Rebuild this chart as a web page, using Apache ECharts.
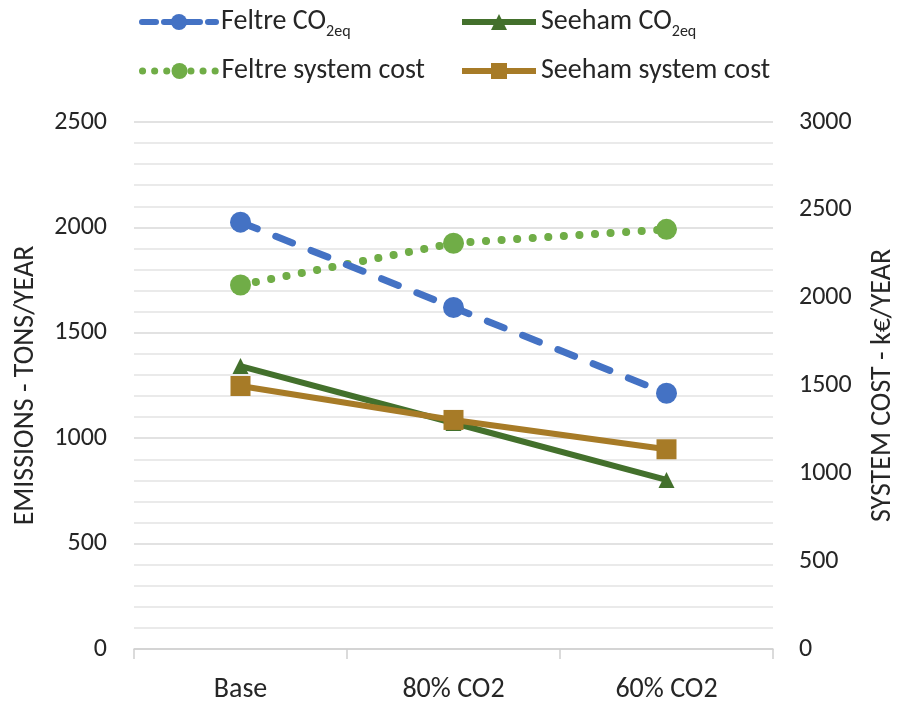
<!DOCTYPE html>
<html>
<head>
<meta charset="utf-8">
<script src="https://cdn.jsdelivr.net/npm/echarts@6/dist/echarts.min.js"></script>
<style>
  html, body { margin: 0; padding: 0; background: #fff; }
  #chart { width: 897px; height: 702px; }
</style>
</head>
<body>
<div id="chart"></div>
<script>
// scenarios on the x axis
const categories = ['Base', '80% CO2', '60% CO2']
// emissions, tons/year (left axis)
const feltreCO2 = [2025, 1620, 1213]
const seehamCO2 = [1342, 1072, 802]
// system cost, k€/year (right axis)
const feltreCost = [2072, 2310, 2389]
const seehamCost = [1497, 1304, 1137]

const FONT = 'Carlito, Lato, sans-serif'
const TXT = '#262626'

const chart = echarts.init(document.getElementById('chart'))

// 图例：每个项目单独定位，排成两行两列
function legendAt (name, left, top, line) {
  return {
    data: [name],
    left: left,
    top: top,
    padding: 0,
    itemWidth: 74,
    itemHeight: 20,
    itemGap: 4,
    lineStyle: line,
    textStyle: {
      fontFamily: FONT,
      fontSize: 28,
      color: TXT,
      rich: {
        a: { fontFamily: FONT, fontSize: 28, color: TXT },
        s: { fontFamily: FONT, fontSize: 16, color: TXT, verticalAlign: 'bottom', padding: [20, 0, 0, 0] }
      }
    },
    formatter: n => {
      if (n.endsWith('CO2eq')) return '{a|' + n.replace('2eq', '') + '}{s|2eq}'
      return n
    }
  }
}

chart.setOption({
  animation: false,
  legend: [
    legendAt('Feltre CO2eq', 139, 8, { width: 6, type: [14, 8], cap: 'round' }),
    legendAt('Seeham CO2eq', 459, 8, { width: 6 }),
    legendAt('Feltre system cost', 139, 57, { width: 7, type: [0.1, 12], cap: 'round' }),
    legendAt('Seeham system cost', 459, 57, { width: 6 })
  ],
  grid: { left: 134, right: 124, top: 122, bottom: 53, outerBoundsMode: 'none' },
  xAxis: {
    type: 'category',
    data: categories,
    boundaryGap: true,
    axisLine: { lineStyle: { color: '#D0D0D0', width: 1.5 } },
    axisTick: { show: true, length: 10, lineStyle: { color: '#D0D0D0', width: 1.5 } },
    axisLabel: { fontFamily: FONT, fontSize: 28, color: TXT, margin: 27 }
  },
  yAxis: [
    {
      type: 'value',
      min: 0,
      max: 2500,
      interval: 500,
      name: 'EMISSIONS - TONS/YEAR',
      nameLocation: 'middle',
      nameGap: 94,
      nameTextStyle: { fontFamily: FONT, fontSize: 28, color: TXT },
      axisLine: { show: false },
      axisTick: { show: false },
      axisLabel: { fontFamily: FONT, fontSize: 26, color: TXT, margin: 27, formatter: v => String(v) },
      splitLine: { lineStyle: { color: '#D9D9D9', width: 1.5 } },
      minorTick: { show: false, splitNumber: 5 },
      minorSplitLine: { show: true, lineStyle: { color: '#E3E3E3', width: 1.5 } }
    },
    {
      type: 'value',
      min: 0,
      max: 3000,
      interval: 500,
      name: 'SYSTEM COST - k€/YEAR',
      nameLocation: 'middle',
      nameGap: 96,
      nameRotate: 90,
      nameTextStyle: { fontFamily: FONT, fontSize: 28, color: TXT },
      axisLine: { show: false },
      axisTick: { show: false },
      axisLabel: { fontFamily: FONT, fontSize: 26, color: TXT, margin: 26, formatter: v => String(v) },
      splitLine: { show: false }
    }
  ],
  series: [
    {
      name: 'Feltre CO2eq',
      type: 'line',
      yAxisIndex: 0,
      data: feltreCO2,
      symbol: 'circle',
      symbolSize: 21,
      color: '#4472C4',
      lineStyle: { width: 7, type: [18, 20], cap: 'round' },
      z: 4
    },
    {
      name: 'Seeham CO2eq',
      type: 'line',
      yAxisIndex: 0,
      data: seehamCO2,
      symbol: 'triangle',
      symbolSize: 16,
      color: '#43702C',
      lineStyle: { width: 6 },
      z: 2
    },
    {
      name: 'Feltre system cost',
      type: 'line',
      yAxisIndex: 1,
      data: feltreCost,
      symbol: 'circle',
      symbolSize: 21,
      color: '#70AD47',
      lineStyle: { width: 8, type: [0.1, 15.5], cap: 'round' },
      z: 3
    },
    {
      name: 'Seeham system cost',
      type: 'line',
      yAxisIndex: 1,
      data: seehamCost,
      symbol: 'rect',
      symbolSize: 20,
      color: '#A77B27',
      lineStyle: { width: 6 },
      z: 3
    }
  ]
})
</script>
</body>
</html>
